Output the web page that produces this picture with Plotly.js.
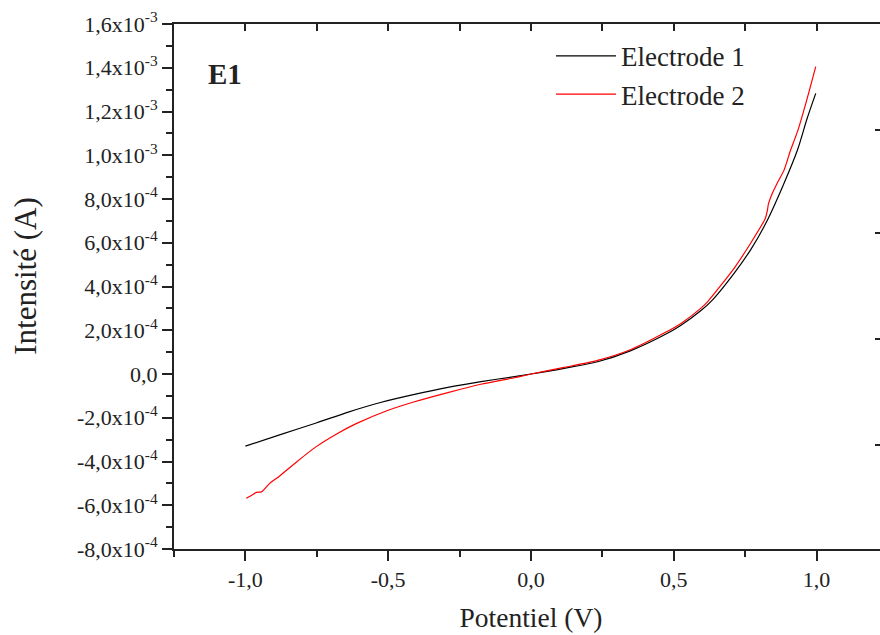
<!DOCTYPE html>
<html>
<head>
<meta charset="utf-8">
<script src="https://cdn.plot.ly/plotly-3.0.1.min.js"></script>
<style>
html,body{margin:0;padding:0;overflow:hidden;background:#fff;}
#chart{width:900px;height:635px;}
</style>
</head>
<body>
<div id="chart"></div>
<script>
// Electrode 1 (black)
const e1Potential = [-1.0, -0.875, -0.752, -0.64, -0.524, -0.408, -0.291, -0.175, -0.058, 0.0, 0.116, 0.233, 0.35, 0.466, 0.524, 0.594, 0.635, 0.711, 0.77, 0.828, 0.886, 0.933, 0.967, 0.997];
const e1Current = [-3.30e-4, -2.76e-4, -2.24e-4, -1.74e-4, -1.29e-4, -0.93e-4, -0.61e-4, -0.35e-4, -0.12e-4, 0.0, 0.26e-4, 0.56e-4, 1.07e-4, 1.78e-4, 2.22e-4, 2.89e-4, 3.38e-4, 4.60e-4, 5.7e-4, 7.04e-4, 8.72e-4, 1.024e-3, 1.169e-3, 1.283e-3];
// Electrode 2 (red)
const e2Potential = [-0.997, -0.975, -0.962, -0.944, -0.915, -0.880, -0.822, -0.752, -0.682, -0.612, -0.507, -0.408, -0.291, -0.175, -0.058, 0.0, 0.116, 0.233, 0.35, 0.466, 0.524, 0.594, 0.618, 0.711, 0.77, 0.820, 0.828, 0.831, 0.845, 0.862, 0.886, 0.909, 0.933, 0.965, 0.997];
const e2Current = [-5.68e-4, -5.52e-4, -5.41e-4, -5.39e-4, -5.0e-4, -4.66e-4, -4.03e-4, -3.32e-4, -2.75e-4, -2.27e-4, -1.69e-4, -1.27e-4, -0.85e-4, -0.47e-4, -0.17e-4, 0.0, 0.30e-4, 0.62e-4, 1.12e-4, 1.87e-4, 2.30e-4, 3.00e-4, 3.30e-4, 4.83e-4, 6.0e-4, 7.1e-4, 7.50e-4, 7.75e-4, 8.26e-4, 8.72e-4, 9.32e-4, 1.024e-3, 1.108e-3, 1.25e-3, 1.405e-3];

const xTickVals = [-1.0, -0.5, 0.0, 0.5, 1.0];
const xTickText = ['-1,0', '-0,5', '0,0', '0,5', '1,0'];
const yTickVals = [-8e-4, -6e-4, -4e-4, -2e-4, 0, 2e-4, 4e-4, 6e-4, 8e-4, 1.0e-3, 1.2e-3, 1.4e-3, 1.6e-3];
const yTickText = ['-8,0x10<sup>-4</sup>', '-6,0x10<sup>-4</sup>', '-4,0x10<sup>-4</sup>', '-2,0x10<sup>-4</sup>', '0,0',
  '2,0x10<sup>-4</sup>', '4,0x10<sup>-4</sup>', '6,0x10<sup>-4</sup>', '8,0x10<sup>-4</sup>',
  '1,0x10<sup>-3</sup>', '1,2x10<sup>-3</sup>', '1,4x10<sup>-3</sup>', '1,6x10<sup>-3</sup>'];
const rightTickVals = [1.115e-3, 6.45e-4, 1.6e-4, -3.25e-4];
const seriesNames = ['Electrode 1', 'Electrode 2'];
const xTitle = 'Potentiel (V)';
const yTitle = 'Intensité (A)';
const panelLabel = 'E1';

const FONT = 'Liberation Serif, Times New Roman, serif';
const TXT = '#222';

const traces = [
  {x: e1Potential, y: e1Current, name: seriesNames[0], type: 'scatter', mode: 'lines',
   line: {color: '#000000', width: 1.2, shape: 'spline', smoothing: 0.8}},
  {x: e2Potential, y: e2Current, name: seriesNames[1], type: 'scatter', mode: 'lines',
   line: {color: '#ff0000', width: 1.2, shape: 'spline', smoothing: 0.6}},
  // invisible companion so the right-hand tick axis is drawn
  {x: e1Potential, y: e1Current, xaxis: 'x2', yaxis: 'y2', type: 'scatter', mode: 'lines',
   showlegend: false, hoverinfo: 'skip', opacity: 0, line: {width: 0.1, color: 'rgba(0,0,0,0)'}}
];

const layout = {
  width: 900, height: 635,
  margin: {l: 174, r: 12, t: 24, b: 86},
  paper_bgcolor: '#fff', plot_bgcolor: '#fff',
  font: {family: FONT, color: TXT, size: 22},
  showlegend: true,
  legend: {x: 0.528, y: 0.985, xanchor: 'left', yanchor: 'top', bgcolor: 'rgba(0,0,0,0)',
    font: {family: FONT, size: 27, color: TXT}, itemwidth: 60, tracegroupgap: 0},
  xaxis: {
    range: [-1.25, 1.25], tickmode: 'array', tickvals: xTickVals, ticktext: xTickText,
    ticks: 'outside', ticklen: 10, tickwidth: 2, tickcolor: '#222',
    minor: {dtick: 0.25, tick0: 0, ticks: 'outside', ticklen: 6, tickwidth: 2, tickcolor: '#222', showgrid: false},
    showline: true, linewidth: 2, linecolor: '#222', showgrid: false, zeroline: false,
    tickfont: {family: FONT, size: 22, color: TXT},
    title: {text: xTitle, font: {family: FONT, size: 27.5, color: TXT}, standoff: 16}
  },
  xaxis2: {
    overlaying: 'x', side: 'top', anchor: 'y', range: [-1.25, 1.25],
    tickmode: 'linear', tick0: 0, dtick: 0.25, ticks: 'inside', ticklen: 7, tickwidth: 2, tickcolor: '#222',
    showticklabels: false, showline: true, linewidth: 2, linecolor: '#222', showgrid: false, zeroline: false
  },
  yaxis: {
    range: [-8e-4, 1.6e-3], tickmode: 'array', tickvals: yTickVals, ticktext: yTickText,
    ticks: 'outside', ticklen: 10, tickwidth: 2, tickcolor: '#222',
    minor: {dtick: 1e-4, tick0: 0, ticks: 'outside', ticklen: 6, tickwidth: 2, tickcolor: '#222', showgrid: false},
    showline: true, linewidth: 2, linecolor: '#222', showgrid: false, zeroline: false,
    tickfont: {family: FONT, size: 22, color: TXT}
  },
  yaxis2: {
    overlaying: 'y', side: 'right', anchor: 'x2', range: [-8e-4, 1.6e-3],
    tickmode: 'array', tickvals: rightTickVals, ticks: 'inside', ticklen: 13, tickwidth: 2, tickcolor: '#222',
    showticklabels: false, showline: false, showgrid: false, zeroline: false
  },
  annotations: [
    {text: '<b>' + panelLabel + '</b>', xref: 'paper', yref: 'paper', x: 0.045, y: 0.905, xanchor: 'left', yanchor: 'middle',
     showarrow: false, font: {family: FONT, size: 29, color: TXT}},
    {text: yTitle, xref: 'paper', yref: 'paper', x: -0.209, y: 0.52, xanchor: 'center', yanchor: 'middle',
     textangle: -90, showarrow: false, font: {family: FONT, size: 31, color: TXT}}
  ]
};

Plotly.newPlot('chart', traces, layout, {displayModeBar: false, staticPlot: true});
</script>
</body>
</html>
